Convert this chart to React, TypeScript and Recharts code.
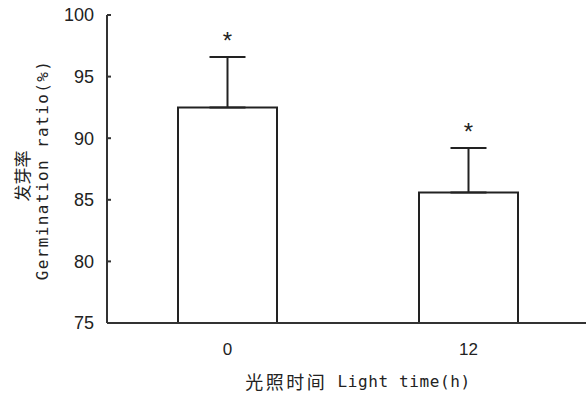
import React from 'react';
import { ComposedChart, Bar, XAxis, YAxis, ErrorBar, Scatter } from 'recharts';

const categories = ['0', '12'];
const germination = [92.5, 85.6];
const errorUp = [4.1, 3.6];
const significance = ['*', '*'];
const yTicks = [75, 80, 85, 90, 95, 100];
const xTitleCn = '光照时间';
const xTitleEn = ' Light time(h)';
const yTitleCn = '发芽率';
const yTitleEn = 'Germination ratio(%)';

const data = categories.map((c, i) => ({
  cat: c,
  value: germination[i],
  err: [0, errorUp[i]],
  top: germination[i] + errorUp[i],
  sig: significance[i],
}));

const INK = '#222';
const MONO = '"DejaVu Sans Mono", "Liberation Mono", monospace';
const CJK = '"Noto Sans CJK SC", sans-serif';

const Star = (props: any) => {
  const { cx, cy, payload } = props;
  return (
    <text x={cx} y={cy - 8} textAnchor="middle" fontSize={24} fill={INK} fontFamily="Liberation Sans, Arial, sans-serif">
      {payload.sig}
    </text>
  );
};

const YLabel = () => (
  <g>
    <text
      transform="translate(21,176) rotate(-90)"
      textAnchor="middle"
      dominantBaseline="central"
      fontSize={17}
      fill={INK}
      fontFamily={CJK}
    >
      {yTitleCn}
    </text>
    <text
      transform="translate(42,170) rotate(-90)"
      textAnchor="middle"
      dominantBaseline="central"
      fontSize={16}
      letterSpacing={1.4}
      fill={INK}
      fontFamily={MONO}
    >
      {yTitleEn}
    </text>
  </g>
);

const XLabel = (props: any) => {
  const vb = props.viewBox || { x: 107, width: 482 };
  const cx = vb.x + vb.width / 2 + 10;
  return (
    <text x={cx} y={381} textAnchor="middle" dominantBaseline="central" fill={INK}>
      <tspan fontFamily={CJK} fontSize={18} letterSpacing={2.5}>{xTitleCn}</tspan>
      <tspan fontFamily={MONO} fontSize={16} letterSpacing={0.6}>{xTitleEn}</tspan>
    </text>
  );
};

export default function App() {
  return (
    <div style={{ position: 'absolute', left: 0, top: 0, width: 586, height: 394, background: '#fff' }}>
      <ComposedChart width={586} height={394} data={data} margin={{ top: 15, right: -3, bottom: 0, left: 0 }}>
        <XAxis
          dataKey="cat"
          type="category"
          height={71}
          tickLine={false}
          tickSize={0}
          tickMargin={20}
          axisLine={{ stroke: '#333', strokeWidth: 2 }}
          tick={{ fill: INK, fontSize: 17, fontFamily: 'Liberation Sans, Arial, sans-serif' }}
          label={{ content: (p: any) => <XLabel {...p} /> }}
        />
        <YAxis
          type="number"
          domain={[75, 100]}
          ticks={yTicks}
          interval={0}
          width={107}
          tickSize={-4}
          tickMargin={17}
          axisLine={{ stroke: '#333', strokeWidth: 2 }}
          tickLine={{ stroke: '#333', strokeWidth: 2 }}
          tick={{ fill: INK, fontSize: 18, fontFamily: 'Liberation Sans, Arial, sans-serif' }}
          label={{ content: () => <YLabel /> }}
        />
        <Bar dataKey="value" barSize={99} fill="#fff" stroke={INK} strokeWidth={2} isAnimationActive={false}>
          <ErrorBar dataKey="err" width={18} stroke={INK} strokeWidth={2} direction="y" />
        </Bar>
        <Scatter dataKey="top" shape={<Star />} isAnimationActive={false} />
      </ComposedChart>
    </div>
  );
}
